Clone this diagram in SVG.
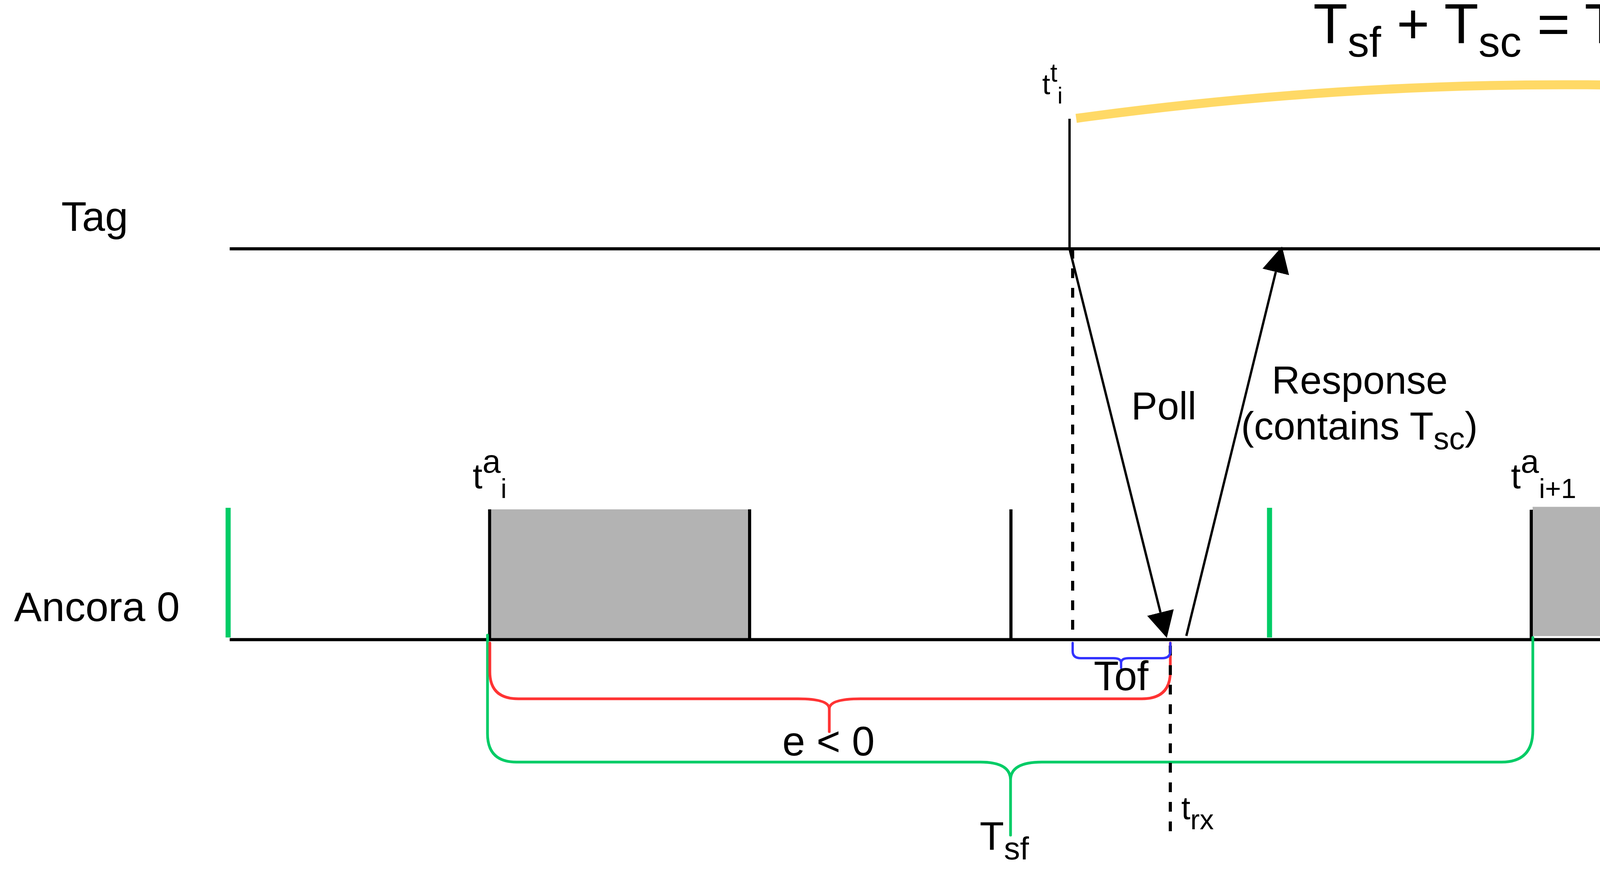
<svg xmlns="http://www.w3.org/2000/svg" width="6433" height="2258" viewBox="0 0 6433 2258">
<defs>
<style>
.t{font-family:"Liberation Sans",Arial,Helvetica,sans-serif;fill:#000}
.ln{stroke:#000;stroke-width:8;fill:none}
.hd{stroke:#000;stroke-width:8;fill:none;stroke-dasharray:24 26}
.vd{stroke:#000;stroke-width:8;fill:none;stroke-dasharray:25 25}
.tk{stroke:#000;stroke-width:8}
.vt{stroke:#000;stroke-width:6}
.gt{stroke:#00CC66;stroke-width:13}
.msg{stroke:#000;stroke-width:6;fill:none;marker-end:url(#ah)}
.gr{fill:#B3B3B3}
.br{fill:none;stroke-linecap:round;stroke-linejoin:round}
</style>
<marker id="ah" markerUnits="userSpaceOnUse" viewBox="0 -36 68 72" refX="0" refY="0" markerWidth="68" markerHeight="72" orient="auto">
<path d="M0,-35 L67,0 L0,35 Z" fill="#000"/>
</marker>
</defs>
<rect width="6433" height="2258" fill="#fff"/>

<g id="title">
<text class="t" x="3362" y="111" font-size="144">T<tspan font-size="110" dy="34">sf</tspan><tspan dy="-34"> + T</tspan><tspan font-size="110" dy="34">sc</tspan><tspan dy="-34"> = T</tspan><tspan font-size="110" dy="34">sf</tspan><tspan dy="-34"> + e</tspan></text>
</g>

<g id="tag-lane">
<text class="t" x="157" y="591" font-size="106">Tag</text>
<path class="ln" d="M588,637 H4606 M4829,637 H6020"/>
<path class="hd" d="M4606,637 H4829 M6020,637 H6225"/>
</g>

<g id="ancora-lane">
<text class="t" x="36" y="1590" font-size="106">Ancora 0</text>
<rect class="gr" x="1258" y="1304" width="657" height="330"/>
<rect class="gr" x="3922" y="1296" width="658" height="334" stroke="#fff" stroke-width="3"/>
<rect class="gr" x="5499" y="1296" width="656" height="334" stroke="#fff" stroke-width="3"/>
<path class="ln" d="M588,1637.5 H4588 M4828,1637.5 H6163"/>
<path class="hd" d="M4588,1637.5 H4828 M6163,1637.5 H6390"/>
<g id="slot-ticks">
<line class="tk" x1="1253.5" y1="1304" x2="1253.5" y2="1637"/>
<line class="tk" x1="1919" y1="1304" x2="1919" y2="1637"/>
<line class="tk" x1="2588" y1="1304" x2="2588" y2="1637"/>
<line class="tk" x1="3920" y1="1305" x2="3920" y2="1637"/>
<line class="tk" x1="4588" y1="1305" x2="4588" y2="1637"/>
<line class="tk" x1="5495" y1="1305" x2="5495" y2="1637"/>
<line class="tk" x1="6163" y1="1305" x2="6163" y2="1637"/>
</g>
<g id="superframe-ticks">
<line class="gt" x1="584" y1="1300" x2="584" y2="1632"/>
<line class="gt" x1="3250" y1="1300" x2="3250" y2="1632"/>
<line class="gt" x1="4824" y1="1300" x2="4824" y2="1632"/>
</g>
</g>

<g id="label-tti">
<line class="vt" x1="2738" y1="304" x2="2738" y2="637"/>
<text class="t" x="2668" y="241" font-size="74">t<tspan font-size="66" dy="-32">t</tspan><tspan font-size="60" dy="56">i</tspan></text>
</g>

<g id="label-tti1">
<line class="vt" x1="5246" y1="304" x2="5246" y2="637"/>
<text class="t" x="5266" y="257" font-size="100">t<tspan font-size="84" dy="-41">t</tspan><tspan font-size="84" dy="66">i+1</tspan><tspan dy="-25"> = t</tspan><tspan font-size="84" dy="-41">a</tspan><tspan font-size="84" dy="66">i</tspan><tspan dy="-25"> + 2T</tspan><tspan font-size="84" dy="25">sf</tspan><tspan dy="-25"> - Tof</tspan></text>
</g>

<g id="label-tai">
<text class="t" x="1210" y="1250" font-size="90">t<tspan font-size="84" dy="-40">a</tspan><tspan font-size="70" dy="65">i</tspan></text>
</g>
<g id="label-tai1">
<text class="t" x="3868" y="1250" font-size="90">t<tspan font-size="84" dy="-40">a</tspan><tspan font-size="70" dy="65">i+1</tspan></text>
</g>
<g id="label-tai2">
<text class="t" x="5477" y="1250" font-size="90">t<tspan font-size="84" dy="-40">a</tspan><tspan font-size="70" dy="65">i+2</tspan></text>
</g>

<g id="brace-tsf">
<path class="br" stroke="#00CC66" stroke-width="7" d="M1248,1626 L1248,1878 Q1248,1951 1322,1951 L2510,1951 Q2587,1951 2587,1997 L2587,2138 M2587,1997 Q2587,1951 2667,1951 L3844,1951 Q3924,1951 3924,1870 L3924,1632"/>
<text class="t" x="2508" y="2176" font-size="102">T<tspan font-size="82" dy="24">sf</tspan></text>
</g>

<g id="brace-e">
<path class="br" stroke="#FF3333" stroke-width="7" d="M1254,1646 L1254,1720 Q1254,1789 1327,1789 L2043,1789 Q2123,1789 2123,1815 L2123,1873 M2123,1815 Q2123,1789 2203,1789 L2923,1789 Q2996,1789 2996,1720 L2996,1646"/>
<text class="t" x="2121" y="1934" font-size="105" text-anchor="middle">e &lt; 0</text>
</g>

<g id="trx">
<line class="vd" x1="2996" y1="1653" x2="2996" y2="2130"/>
<text class="t" x="3024" y="2097" font-size="84">t<tspan font-size="72" dy="26">rx</tspan></text>
</g>

<g id="brace-tof1">
<path class="br" stroke="#3333FF" stroke-width="6" d="M2746,1646 L2746,1667 Q2746,1685 2767,1685 L2850,1685 Q2870,1685 2870,1697 L2870,1710 M2870,1697 Q2870,1685 2890,1685 L2975,1685 Q2996,1685 2996,1667 L2996,1646"/>
<text class="t" x="2870" y="1767" font-size="105" text-anchor="middle">Tof</text>
</g>

<g id="brace-tof2">
<path class="br" stroke="#3333FF" stroke-width="6" d="M5245,1646 L5245,1667 Q5245,1685 5266,1685 L5349,1685 Q5369,1685 5369,1697 L5369,1710 M5369,1697 Q5369,1685 5389,1685 L5474,1685 Q5495,1685 5495,1667 L5495,1646"/>
<text class="t" x="5370" y="1790" font-size="105" text-anchor="middle">Tof</text>
</g>

<g id="connectors">
<line class="vd" x1="2746" y1="637" x2="2746" y2="1637"/>
<line class="vd" x1="5246" y1="637" x2="5246" y2="1637"/>
<path id="poll-1" class="msg" d="M2738,637 L2970.8,1568"/>
<path id="response" class="msg" d="M3037,1628 L3266,696.1"/>
<path id="poll-2" class="msg" d="M5246,637 L5478.8,1569"/>
<g id="period-arrow">
<path d="M2755,303 Q3972,137 5141,291" fill="none" stroke="#FFD966" stroke-width="23"/>
<polygon points="5244,304 5125,223 5144,280 5140,302 5107,351" fill="#FFD966"/>
</g>
</g>

<g id="msg-labels">
<text class="t" x="2896" y="1074" font-size="100">Poll</text>
<text class="t" x="5405" y="1075" font-size="100">Poll</text>
<text class="t" x="3481" y="1008" font-size="100" text-anchor="middle">Response</text>
<text class="t" x="3480" y="1125" font-size="100" text-anchor="middle">(contains T<tspan font-size="80" dy="25">sc</tspan><tspan dy="-25">)</tspan></text>
</g>
</svg>
